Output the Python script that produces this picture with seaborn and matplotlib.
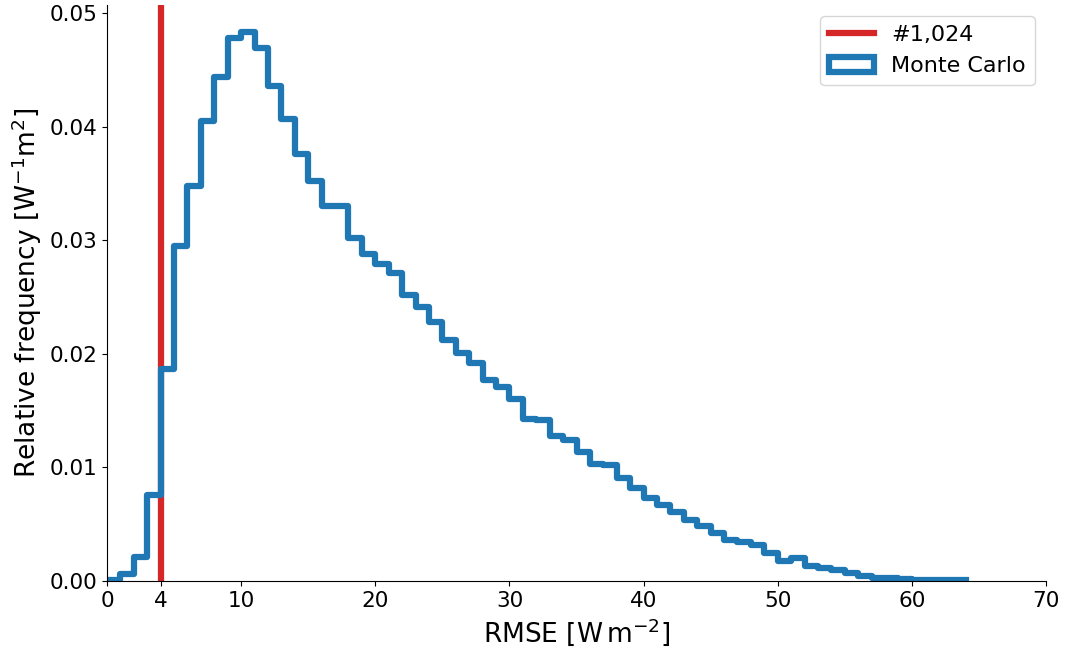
import numpy as np
import pandas as pd
import seaborn as sns
import matplotlib.pyplot as plt
from matplotlib.patches import Patch
from matplotlib.lines import Line2D

# bin edges (width 1 W m-2) and relative frequency
bin_left = list(range(0, 64))
rel_freq = [
    0.0001, 0.0006, 0.0021, 0.0076, 0.0187, 0.0295, 0.0348, 0.0405, 0.0444, 0.0478,
    0.0483, 0.0469, 0.0436, 0.0407, 0.0376, 0.0352, 0.0330, 0.0330, 0.0302, 0.0288,
    0.0279, 0.0271, 0.0252, 0.0241, 0.0228, 0.0212, 0.0201, 0.0192, 0.0177, 0.0171,
    0.0160, 0.0143, 0.0142, 0.0128, 0.0124, 0.0114, 0.0103, 0.0102, 0.0091, 0.0082,
    0.0073, 0.0067, 0.0061, 0.0054, 0.0048, 0.0042, 0.0036, 0.0034, 0.0032, 0.0025,
    0.0018, 0.0020, 0.0013, 0.0011, 0.0010, 0.0007, 0.0004, 0.0003, 0.0003, 0.0002,
    0.0001, 0.0001, 0.0001, 0.0001,
]
best_rmse = 4
best_label = "#1,024"
xticks = [0, 4, 10, 20, 30, 40, 50, 60, 70]
yticks = [0, 0.01, 0.02, 0.03, 0.04, 0.05]

df = pd.DataFrame({"rmse": np.array(bin_left) + 0.5, "freq": rel_freq})
edges = list(range(0, 65))

fig = plt.figure(figsize=(10.7, 6.53), dpi=100)
ax = fig.add_axes([0.1, 0.1103, 0.8776, 0.8817])

ax.axvline(best_rmse, color="#d62728", lw=4.5, label=best_label)
sns.histplot(data=df, x="rmse", weights="freq", bins=edges, element="step",
             fill=False, color="#1f77b4", lw=4.5, ax=ax)

ax.set_xlim(0, 70)
ax.set_ylim(0, 0.0507)
ax.set_xticks(xticks)
ax.set_yticks(yticks)
ax.set_yticklabels([f"{v:.2f}" for v in yticks])
ax.tick_params(labelsize=15.5)
ax.set_xlabel(r"RMSE [W$\,$m$^{-2}$]", fontsize=19)
ax.set_ylabel(r"Relative frequency [W$^{-1}$m$^{2}$]", fontsize=19)
sns.despine(ax=ax)

handles = [Line2D([], [], color="#d62728", lw=4.5),
           Patch(facecolor="white", edgecolor="#1f77b4", lw=4.5)]
ax.legend(handles, [best_label, "Monte Carlo"], loc="upper right", fontsize=16)

fig.savefig("out.png", dpi=100)
